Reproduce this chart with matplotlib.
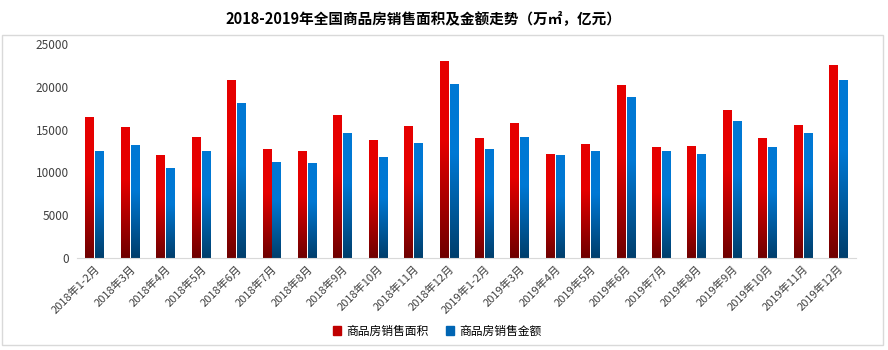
import numpy as np
import matplotlib
matplotlib.use("Agg")
import matplotlib.pyplot as plt
from matplotlib.patches import Patch, Rectangle
from matplotlib.colors import to_rgb

plt.rcParams['font.family'] = ['Noto Sans CJK SC', 'DejaVu Sans']

months = ["2018年1-2月", "2018年3月", "2018年4月", "2018年5月", "2018年6月", "2018年7月",
          "2018年8月", "2018年9月", "2018年10月", "2018年11月", "2018年12月",
          "2019年1-2月", "2019年3月", "2019年4月", "2019年5月", "2019年6月", "2019年7月",
          "2019年8月", "2019年9月", "2019年10月", "2019年11月", "2019年12月"]
area = [16400, 15300, 12000, 14100, 20700, 12700, 12400, 16700, 13700, 15400, 22900,
        14000, 15700, 12100, 13300, 20200, 12900, 13000, 17200, 14000, 15500, 22500]
amount = [12400, 13100, 10500, 12500, 18100, 11200, 11000, 14600, 11700, 13400, 20300,
          12700, 14100, 12000, 12500, 18800, 12400, 12100, 16000, 12900, 14500, 20700]
series_names = ["商品房销售面积", "商品房销售金额"]

red_top, red_bot = to_rgb("#E60000"), to_rgb("#6E0000")
blue_top, blue_bot = to_rgb("#0078D4"), to_rgb("#003E6B")

fig = plt.figure(figsize=(8.88, 3.5), dpi=100)
ax = fig.add_axes([77 / 888, 1 - 258 / 350, 779 / 888, (258 - 44) / 350])

# 渐变色柱子
def grad_bar(x, h, w, c_top, c_bot):
    t = np.linspace(0, 1, 256)
    k = np.clip(t / 0.6, 0, 1)[:, None]
    img = np.array(c_bot)[None, :] + (np.array(c_top) - np.array(c_bot))[None, :] * k
    img = img[:, None, :]
    ax.imshow(img, extent=(x - w / 2, x + w / 2, 0, h), origin="lower",
              aspect="auto", interpolation="bilinear", zorder=2)

x = np.arange(len(months))
w = 0.24
for i in range(len(months)):
    grad_bar(x[i] - 0.14, area[i], w, red_top, red_bot)
    grad_bar(x[i] + 0.14, amount[i], w, blue_top, blue_bot)

ax.set_xlim(-0.5, len(months) - 0.5)
ax.set_ylim(0, 25000)
ax.set_yticks(np.arange(0, 25001, 5000))
ax.tick_params(axis="y", length=0, labelsize=8.5, labelcolor="#404040", pad=6)
ax.set_xticks(x)
ax.set_xticklabels(months, rotation=45, ha="right", rotation_mode="anchor",
                   fontsize=8, color="#404040")
ax.tick_params(axis="x", length=0, pad=4)
for s in ["top", "right", "left"]:
    ax.spines[s].set_visible(False)
ax.spines["bottom"].set_color("#D9D9D9")

fig.text(423 / 888, 1 - 18 / 350, "2018-2019年全国商品房销售面积及金额走势（万㎡，亿元）",
         ha="center", va="center", fontsize=10.5, fontweight="bold", color="#000000")

handles = [Patch(color="#C00000"), Patch(color="#0065B3")]
fig.legend(handles, series_names, loc="center", bbox_to_anchor=(437 / 888, 1 - 331 / 350),
           ncol=2, frameon=False, fontsize=8.5, handlelength=0.7, handleheight=0.7,
           handletextpad=0.4, columnspacing=1.5)

fig.patches.append(Rectangle((2 / 888, 1 - 345 / 350), 881 / 888, 310 / 350,
                             transform=fig.transFigure, fill=False,
                             edgecolor="#D9D9D9", linewidth=1))

fig.savefig("out.png", dpi=100)
